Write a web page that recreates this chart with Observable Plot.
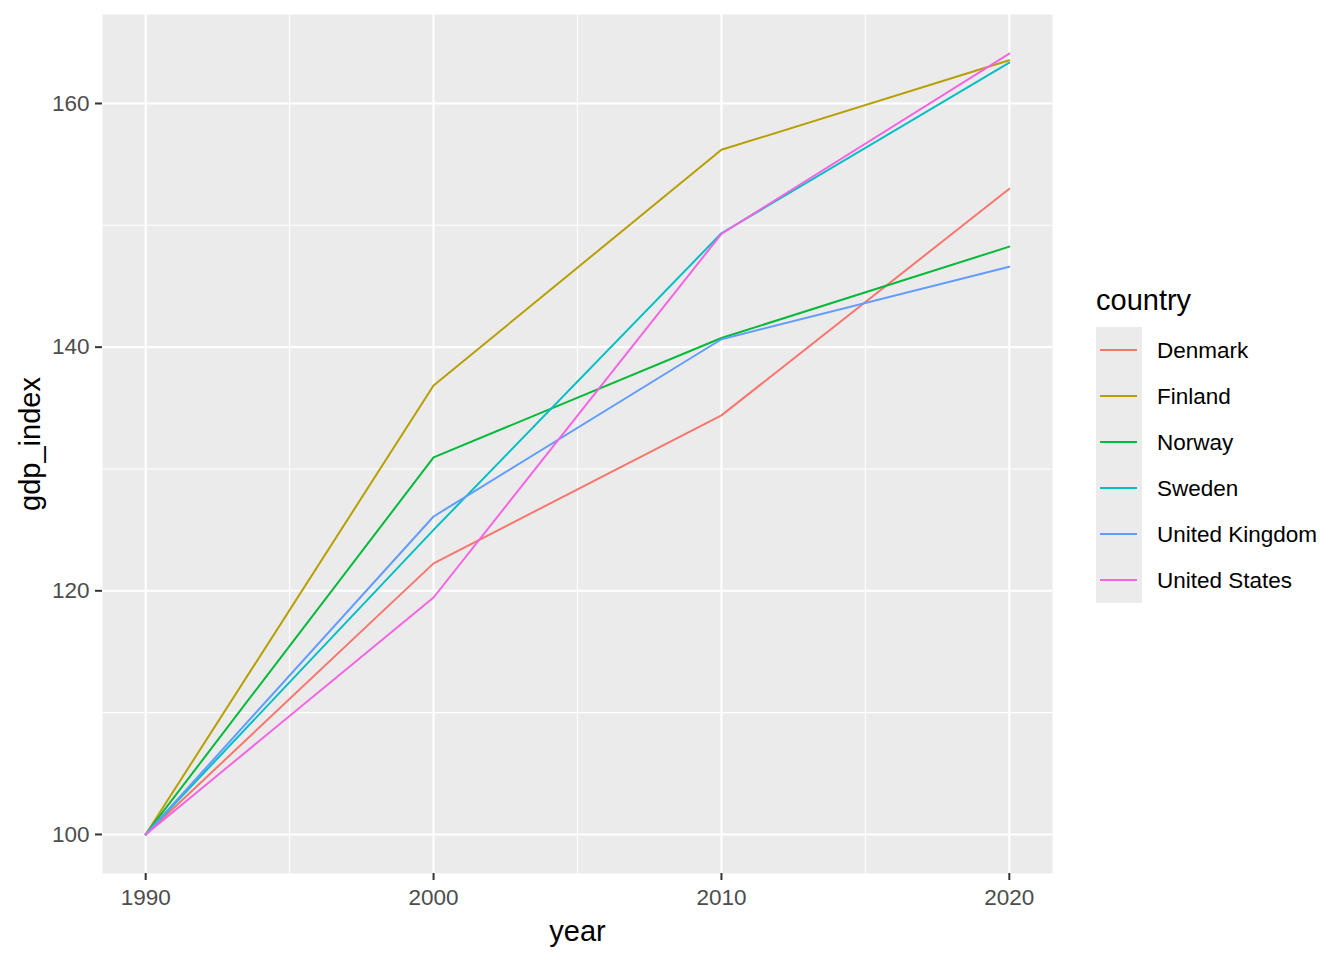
<!DOCTYPE html>
<html>
<head>
<meta charset="utf-8">
<script src="https://cdn.jsdelivr.net/npm/d3@7"></script>
<script src="https://cdn.jsdelivr.net/npm/@observablehq/plot@0.6"></script>
<style>
  html, body { margin: 0; padding: 0; background: white; }
  #chart { position: relative; width: 1344px; height: 960px; }
  #chart svg { font-family: "Liberation Sans", Arial, sans-serif; }
  #chart g[aria-label="x-axis tick"], #chart g[aria-label="y-axis tick"] { stroke: #333333; stroke-width: 2px; }
</style>
</head>
<body>
<div id="chart"></div>
<script>
const years = [1990, 2000, 2010, 2020];
const countries = ["Denmark", "Finland", "Norway", "Sweden", "United Kingdom", "United States"];
const colors = ["#F8766D", "#B79F00", "#00BA38", "#00BFC4", "#619CFF", "#F564E3"];
const denmark = [100, 122.25, 134.4, 153.0];
const finland = [100, 136.85, 156.2, 163.55];
const norway = [100, 130.95, 140.75, 148.25];
const sweden = [100, 125.0, 149.35, 163.35];
const unitedKingdom = [100, 126.1, 140.65, 146.6];
const unitedStates = [100, 119.45, 149.3, 164.1];
const xTicks = [1990, 2000, 2010, 2020];
const xMinor = [1995, 2005, 2015];
const yTicks = [100, 120, 140, 160];
const yMinor = [110, 130, 150];

const series = [denmark, finland, norway, sweden, unitedKingdom, unitedStates];
const rows = [];
countries.forEach((c, i) => years.forEach((y, j) => rows.push({country: c, year: y, gdp_index: series[i][j]})));

const allV = rows.map(d => d.gdp_index);
const vMin = d3.min(allV), vMax = d3.max(allV);
const vPad = (vMax - vMin) * 0.05;
const xPad = (d3.max(years) - d3.min(years)) * 0.05;

const plot = Plot.plot({
  width: 1344,
  height: 960,
  marginLeft: 102,
  marginRight: 292,
  marginTop: 14,
  marginBottom: 87,
  style: {background: "white", fontFamily: "'Liberation Sans', Arial, sans-serif"},
  x: {domain: [d3.min(years) - xPad, d3.max(years) + xPad]},
  y: {domain: [vMin - vPad, vMax + vPad]},
  color: {domain: countries, range: colors},
  marks: [
    Plot.frame({fill: "#EBEBEB", stroke: null}),
    Plot.ruleX(xMinor, {stroke: "white", strokeWidth: 1.1}),
    Plot.ruleY(yMinor, {stroke: "white", strokeWidth: 1.1}),
    Plot.ruleX(xTicks, {stroke: "white", strokeWidth: 2.1}),
    Plot.ruleY(yTicks, {stroke: "white", strokeWidth: 2.1}),
    Plot.axisX({ticks: xTicks, tickFormat: d => String(d), tickSize: 7, tickPadding: 9, fontSize: 22.5, color: "#4D4D4D", label: null}),
    Plot.axisY({ticks: yTicks, tickFormat: d => String(d), tickSize: 7, tickPadding: 6, fontSize: 22.5, color: "#4D4D4D", label: null}),
    Plot.line(rows, {x: "year", y: "gdp_index", stroke: "country", z: "country", strokeWidth: 2}),
    Plot.text(["year"], {frameAnchor: "bottom", dy: 58, fontSize: 29, fill: "black", textAnchor: "middle", lineAnchor: "middle"}),
    Plot.text(["gdp_index"], {frameAnchor: "left", dx: -72, rotate: -90, fontSize: 29, fill: "black", textAnchor: "middle", lineAnchor: "middle"})
  ]
});

document.getElementById("chart").appendChild(plot);

// legend
const svg = d3.select(plot);
const lg = svg.append("g").attr("font-family", "'Liberation Sans', Arial, sans-serif").attr("text-anchor", "start");
lg.append("text").attr("x", 1096).attr("y", 310).attr("font-size", 29).attr("fill", "black").text("country");
lg.append("rect").attr("x", 1096).attr("y", 327).attr("width", 46).attr("height", 46 * countries.length).attr("fill", "#EBEBEB");
countries.forEach((c, i) => {
  const cy = 327 + 23 + 46 * i;
  lg.append("line").attr("x1", 1100).attr("x2", 1137).attr("y1", cy).attr("y2", cy)
    .attr("stroke", colors[i]).attr("stroke-width", 2);
  lg.append("text").attr("x", 1157).attr("y", cy).attr("dy", "0.35em")
    .attr("font-size", 22.5).attr("fill", "black").text(c);
});
</script>
</body>
</html>
